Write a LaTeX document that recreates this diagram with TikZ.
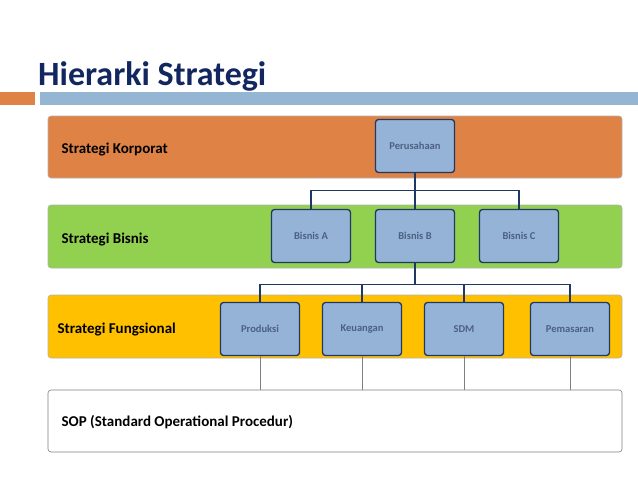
\documentclass[tikz,border=0pt]{standalone}
\usepackage{fontspec}
\setmainfont{Carlito}
\definecolor{titleblue}{RGB}{18,38,96}
\definecolor{barblue}{RGB}{148,182,210}
\definecolor{barorange}{RGB}{222,130,70}
\definecolor{bandgreen}{RGB}{146,208,80}
\definecolor{bandgold}{RGB}{255,192,0}
\definecolor{boxfill}{RGB}{149,179,215}
\definecolor{boxline}{RGB}{31,56,100}
\tikzset{band/.style={rounded corners=3pt, draw=gray!60, line width=0.6pt}}
\tikzset{unit/.style={draw=boxline, fill=boxfill, rounded corners=3pt, line width=1.3pt,
  minimum width=79pt, minimum height=53pt, font=\fontsize{10.5}{12}\selectfont\bfseries, text=boxline!80}}
\tikzset{link/.style={boxline, line width=1.2pt}}
\tikzset{lvl/.style={anchor=west, font=\fontsize{15}{17}\selectfont\bfseries}}
\begin{document}
\begin{tikzpicture}[x=1pt,y=-1pt]
  \useasboundingbox (0,0) rectangle (638,479);
  % Title
  \node[anchor=base west, inner sep=0, text=titleblue, font=\fontsize{34}{38}\selectfont\bfseries] (title) at (38,85) {Hierarki Strategi};
  \fill[barorange] (0,92) rectangle (35,105);
  \fill[barblue] (40,92) rectangle (638,105);
  % Bands
  \filldraw[band, fill=barorange] (48,116) rectangle (622,178);
  \filldraw[band, fill=bandgreen] (48,205) rectangle (622,268);
  \filldraw[band, fill=bandgold] (48,295) rectangle (622,358);
  \filldraw[band, fill=white, draw=gray] (48,390) rectangle (622,452);
  \node[lvl] (korp) at (58,150) {Strategi Korporat};
  \node[lvl] (bis) at (58,240) {Strategi Bisnis};
  \node[lvl] (fung) at (54,330) {Strategi Fungsional};
  \node[lvl] (sop) at (58,422) {SOP (Standard Operational Procedur)};
  % Units
  \node[unit] (pers) at (415,146) {Perusahaan};
  \node[unit] (bisA) at (311,236) {Bisnis A};
  \node[unit] (bisB) at (415,236) {Bisnis B};
  \node[unit] (bisC) at (519,236) {Bisnis C};
  \node[unit] (prod) at (260,329) {Produksi};
  \node[unit] (keu) at (362,329) {Keuangan};
  \node[unit] (sdm) at (464,329) {SDM};
  \node[unit] (pem) at (570,329) {Pemasaran};
  % Connectors
  \draw[link] (pers.south) -- (bisB.north);
  \foreach \b in {bisA,bisC}
    \draw[link] (pers.south) -- ++(0,17) -| (\b.north);
  \foreach \f in {prod,keu,sdm,pem}
    \draw[link] (bisB.south) -- ++(0,21) -| (\f.north);
  \foreach \f in {prod,keu,sdm,pem}
    \draw[gray, line width=0.5pt] (\f.south) -- (\f.south |- 0,390);
\end{tikzpicture}
\end{document}
